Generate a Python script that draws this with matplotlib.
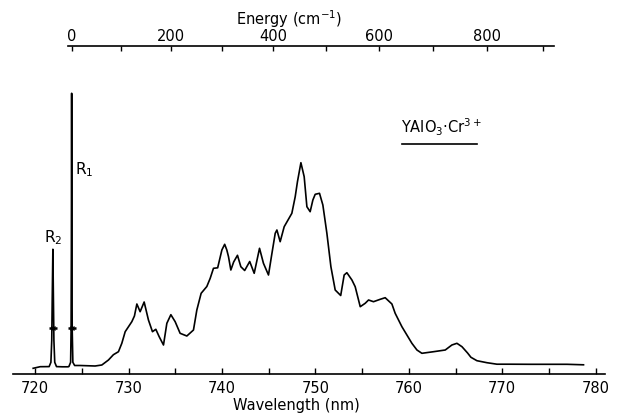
import numpy as np
import matplotlib
matplotlib.use("Agg")
import matplotlib.pyplot as plt
from matplotlib.ticker import FixedLocator, FuncFormatter, MultipleLocator
from matplotlib.lines import Line2D

# Emission spectrum of YAlO3:Cr3+ (relative intensity vs wavelength, nm)
wavelength = [
    719.79, 720.54, 721.50, 721.69, 721.78, 721.83, 721.90, 721.96, 722.01, 722.10,
    722.29, 722.89, 723.53, 723.62, 723.80, 723.85, 723.88, 723.91, 723.94, 723.97,
    724.04, 724.23, 724.82, 726.42, 727.14, 727.85, 728.38, 728.92, 729.28, 729.64,
    730.35, 730.63, 730.89, 731.24, 731.67, 732.13, 732.56, 732.92, 733.28, 733.74,
    734.10, 734.53, 734.99, 735.52, 736.24, 736.95, 737.31, 737.77, 738.38, 738.74,
    739.09, 739.54, 739.99, 740.29, 740.52, 740.70, 740.95, 741.25, 741.66, 742.02,
    742.43, 742.97, 743.45, 744.02, 744.44, 744.98, 745.32, 745.70, 745.88, 746.23,
    746.66, 747.48, 747.84, 748.08, 748.45, 748.80, 749.09, 749.44, 749.73, 749.98,
    750.44, 750.80, 751.23, 751.66, 752.12, 752.71, 753.08, 753.37, 753.91, 754.26,
    754.80, 755.33, 755.69, 756.22, 756.94, 757.47, 758.19, 758.54, 759.26, 760.33,
    760.87, 761.40, 762.65, 763.90, 764.61, 765.15, 765.69, 766.29, 766.65, 767.29,
    768.36, 769.43, 770.86, 773.00, 775.14, 776.93, 778.70,
]
intensity = [
    6.0, 7.6, 7.7, 12, 34, 74, 125, 74, 34, 12,
    7.7, 7.5, 7.5, 7.8, 12, 44, 124, 281, 124, 44,
    12, 8.8, 8.8, 8.3, 9.3, 14.3, 19.6, 22.6, 31, 42.6,
    52.6, 58.3, 70.3, 62.6, 72.3, 54.3, 42.6, 45, 37.6, 29.3,
    51, 59.6, 52.6, 41, 38.3, 44.3, 64.3, 81, 87.8, 96,
    106, 106.5, 124.3, 130, 124.3, 117.6, 104.3, 112.3, 119, 107.6,
    103.8, 112.8, 101, 126, 111, 99.3, 119.3, 141, 144.3, 132.6,
    147.6, 161, 177.6, 192.6, 211.6, 197.6, 167.6, 162.6, 174.3, 180,
    181, 169.3, 141, 107.6, 84.3, 78.8, 99.3, 101.6, 94.3, 87.6,
    67.6, 71, 74.3, 72.6, 75, 76.6, 70.3, 61, 47.6, 31,
    24.3, 21, 22.6, 24.3, 29.3, 31, 27.6, 21.3, 17, 13.6,
    11.6, 10.1, 10.1, 10, 10, 10, 9.5,
]

# R-line positions and the level of the width marks on them
r_lines = [721.90, 723.91]
r_mark_level = [46, 46]
r_names = ["R$_2$", "R$_1$"]

# Upper scale: energy shift from the R1 line (cm^-1)
r1_wavelength = 723.9
energy_ticks = [0, 100, 200, 300, 400, 500, 600, 700, 800, 900]
wavelength_ticks = [720, 730, 740, 750, 760, 770, 780]

W, H = 619, 415
fig = plt.figure(figsize=(W / 100, H / 100), dpi=100)
plt.rcParams["font.family"] = ["DejaVu Sans"]


def fx(x):
    return x / W


def fy(y):
    return 1 - y / H


ax = fig.add_axes([fx(12.7), fy(374.3), (605 - 12.7) / W, (374.3 - 46) / H])
ax.plot(wavelength, intensity, color="black", lw=1.2, solid_joinstyle="round")
ax.plot(r_lines, r_mark_level, ls="none", marker="_", ms=6, mew=1.8, color="black")
ax.plot(r_lines, r_mark_level, ls="none", marker="x", ms=2.5, mew=0.9, color="black")

ax.set_xlim(717.6, 781.0)
ax.set_ylim(0, 328.3)
for side in ("left", "right", "top"):
    ax.spines[side].set_visible(False)
ax.spines["bottom"].set_linewidth(1.2)
ax.set_yticks([])
ax.xaxis.set_major_locator(FixedLocator(wavelength_ticks))
ax.xaxis.set_minor_locator(MultipleLocator(5))
ax.tick_params(axis="x", which="both", direction="in", length=4.5, width=1.0,
               pad=5, labelsize=10.5)


def to_energy(lam):
    lam = np.asarray(lam, dtype=float)
    return 1e7 / r1_wavelength - 1e7 / lam


def to_wavelength(e):
    e = np.asarray(e, dtype=float)
    return 1e7 / (1e7 / r1_wavelength - e)


sec = ax.secondary_xaxis("top", functions=(to_energy, to_wavelength))
sec.spines["top"].set_bounds(-8, 920)
sec.spines["top"].set_linewidth(1.2)
sec.xaxis.set_major_locator(FixedLocator(energy_ticks))
sec.xaxis.set_major_formatter(FuncFormatter(lambda v, p: f"{v:.0f}" if round(v) % 200 == 0 else ""))
sec.tick_params(axis="x", direction="in", length=3.5, width=1.0, pad=1.5, labelsize=10.5)

fig.text(fx(296), fy(405.5), "Wavelength (nm)", ha="center", va="center", fontsize=10.5)
fig.text(fx(289), fy(19), "Energy (cm$^{-1}$)", ha="center", va="center", fontsize=10.5)

# Line labels
fig.text(fx(53), fy(238), r_names[0], ha="center", va="center", fontsize=11)
fig.text(fx(84), fy(170), r_names[1], ha="center", va="center", fontsize=11)

# Sample label with underline
fig.text(fx(401), fy(133), "YAlO$_3$·Cr$^{3+}$", ha="left", va="baseline", fontsize=10.5)
fig.add_artist(Line2D([fx(401.7), fx(476.7)], [fy(144), fy(144)], color="black", lw=1.2))

fig.savefig("out.png", dpi=100, facecolor="white")
